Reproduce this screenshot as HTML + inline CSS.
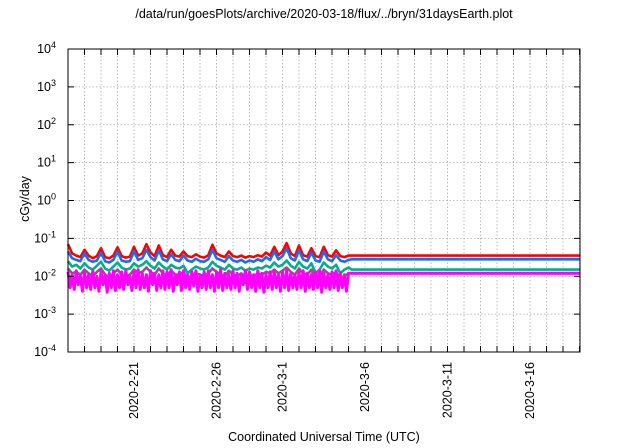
<!DOCTYPE html>
<html><head><meta charset="utf-8"><style>
html,body{margin:0;padding:0;background:#fff;}
svg{display:block;font-family:"Liberation Sans",sans-serif;}
</style></head><body>
<svg id="chart" width="640" height="448" viewBox="0 0 640 448" xmlns="http://www.w3.org/2000/svg">
<rect width="640" height="448" fill="#fff"/>
<text x="324" y="18" font-size="12.5" text-anchor="middle" fill="#000">/data/run/goesPlots/archive/2020-03-18/flux/../bryn/31daysEarth.plot</text>
<text x="0" y="0" font-size="12.5" text-anchor="middle" transform="translate(29,199) rotate(-90)">cGy/day</text>
<text x="324" y="441" font-size="12.5" text-anchor="middle">Coordinated Universal Time (UTC)</text>
<g id="grid"></g><g id="series"></g><g id="axes"></g>
</svg>
<script>
// ---- data ----
const yTickExps = [-4,-3,-2,-1,0,1,2,3,4];
const xTickLabels = ["2020-2-21","2020-2-26","2020-3-1","2020-3-6","2020-3-11","2020-3-16"];
const xTickDays = [4,9,13,18,23,28];
const noisyStartDay = 0, noisyEndDay = 17, tailStartDay = 17.2, endDay = 31;
const redVals = [0.07,0.04,0.035,0.032,0.05,0.035,0.03,0.034,0.055,0.032,0.03,0.035,0.058,0.034,0.031,0.033,0.06,0.035,0.04,0.07,0.042,0.034,0.065,0.036,0.032,0.05,0.035,0.033,0.045,0.034,0.032,0.038,0.033,0.031,0.036,0.068,0.04,0.035,0.032,0.045,0.034,0.032,0.035,0.031,0.034,0.032,0.036,0.033,0.042,0.035,0.06,0.036,0.045,0.075,0.04,0.034,0.065,0.036,0.033,0.055,0.034,0.032,0.06,0.036,0.033,0.048,0.034,0.032,0.035];
const blueVals = [0.045,0.03,0.027,0.025,0.04,0.027,0.024,0.026,0.042,0.025,0.023,0.027,0.045,0.026,0.024,0.025,0.046,0.027,0.03,0.05,0.032,0.026,0.048,0.028,0.025,0.038,0.027,0.025,0.035,0.026,0.024,0.029,0.025,0.024,0.028,0.05,0.03,0.027,0.024,0.034,0.026,0.024,0.027,0.023,0.026,0.024,0.028,0.025,0.032,0.027,0.045,0.028,0.034,0.055,0.03,0.026,0.048,0.028,0.025,0.042,0.026,0.024,0.045,0.028,0.025,0.036,0.026,0.024,0.027];
const greenVals = [0.025,0.018,0.02,0.016,0.022,0.017,0.015,0.019,0.024,0.016,0.014,0.018,0.023,0.017,0.015,0.016,0.022,0.018,0.02,0.025,0.019,0.016,0.023,0.018,0.015,0.02,0.017,0.016,0.019,0.012,0.015,0.018,0.016,0.015,0.017,0.024,0.019,0.017,0.015,0.02,0.016,0.015,0.017,0.014,0.016,0.015,0.017,0.016,0.019,0.017,0.023,0.018,0.02,0.026,0.019,0.016,0.024,0.018,0.016,0.022,0.012,0.015,0.023,0.018,0.016,0.02,0.012,0.015,0.017];
const purpleVals = [0.016,0.012,0.013,0.011,0.015,0.012,0.01,0.013,0.016,0.011,0.009,0.012,0.015,0.011,0.01,0.011,0.015,0.012,0.013,0.017,0.013,0.011,0.016,0.012,0.01,0.014,0.011,0.011,0.013,0.008,0.01,0.012,0.011,0.01,0.012,0.016,0.013,0.011,0.01,0.014,0.011,0.01,0.012,0.009,0.011,0.01,0.012,0.011,0.013,0.012,0.015,0.012,0.014,0.017,0.013,0.011,0.016,0.012,0.011,0.015,0.008,0.01,0.015,0.012,0.011,0.013,0.008,0.01,0.012];
const magentaVals = [0.013,0.005,0.011,0.0045,0.014,0.006,0.01,0.004,0.013,0.005,0.011,0.0045,0.014,0.005,0.01,0.004,0.013,0.006,0.011,0.0038,0.012,0.005,0.014,0.0042,0.011,0.005,0.013,0.0045,0.014,0.006,0.01,0.0042,0.013,0.005,0.015,0.0045,0.012,0.005,0.011,0.004,0.014,0.006,0.012,0.0042,0.011,0.005,0.014,0.0045,0.013,0.005,0.015,0.004,0.011,0.006,0.013,0.0042,0.014,0.005,0.011,0.0045,0.013,0.0055,0.014,0.004,0.011,0.005,0.013,0.0045,0.014,0.005,0.011,0.004,0.013,0.005,0.015,0.0042,0.012,0.005,0.011,0.0045,0.014,0.005,0.012,0.004,0.011,0.006,0.014,0.0045,0.013,0.005,0.011,0.004,0.014,0.005,0.012,0.0038,0.011,0.005,0.013,0.0045,0.014,0.005,0.011,0.004,0.013,0.005,0.014,0.0042,0.012,0.005,0.011,0.0045,0.013,0.005,0.014,0.004,0.012,0.005,0.011,0.0045,0.013,0.005,0.014,0.0038,0.012,0.005,0.011,0.0045,0.013,0.005,0.014,0.0042,0.012,0.005,0.011,0.004,0.012];
const tailLevels = {red:0.035, blue:0.028, green:0.015, purple:0.012, magenta:0.012};

// ---- layout ----
const L=68,R=580,T=49,B=352;
const x = d => L + (d - 0) / (31.03 - 0) * (R - L);
const y = v => B - (Math.log10(v) + 4) / 8 * (B - T);
const NS='http://www.w3.org/2000/svg';
function mk(tag, parent){const e=document.createElementNS(NS,tag);parent.appendChild(e);return e;}
const grid=document.getElementById('grid'), axes=document.getElementById('axes'), ser=document.getElementById('series');

for(let d=1; d<=31; d++){
  const xx=x(d); if(xx>=R) break;
  const g=mk('line',grid);
  
  
  g.setAttribute('x1',xx);g.setAttribute('x2',xx);g.setAttribute('y1',T);g.setAttribute('y2',B);
  g.setAttribute('stroke','#aaa');g.setAttribute('stroke-width','0.8');g.setAttribute('stroke-dasharray','1.5,2');
  for(const [a,b] of [[B,B-6],[T,T+6]]){
    const t=mk('line',axes);
    
    
    t.setAttribute('x1',xx);t.setAttribute('x2',xx);t.setAttribute('y1',a);t.setAttribute('y2',b);
    t.setAttribute('stroke','#000');t.setAttribute('stroke-width','1');
  }
}
yTickExps.forEach(e=>{
  const yy=y(Math.pow(10,e));
  if(e>-4&&e<4){
    const g=mk('line',grid);
    
    
    g.setAttribute('x1',L);g.setAttribute('x2',R);g.setAttribute('y1',yy);g.setAttribute('y2',yy);
    g.setAttribute('stroke','#aaa');g.setAttribute('stroke-width','0.8');g.setAttribute('stroke-dasharray','1.5,2');
  }
  for(const [a,b] of [[L,L+6],[R,R-6]]){
    const t=mk('line',axes);
    
    
    t.setAttribute('x1',a);t.setAttribute('x2',b);t.setAttribute('y1',yy);t.setAttribute('y2',yy);
    t.setAttribute('stroke','#000');t.setAttribute('stroke-width','1');
  }
  const tx=mk('text',axes);
  
  
  tx.setAttribute('x',L-12);tx.setAttribute('y',yy+4);tx.setAttribute('text-anchor','end');tx.setAttribute('font-size','12.5');
  tx.innerHTML='10<tspan dy="-5" font-size="9">'+e+'</tspan>';
});
xTickLabels.forEach((lab,i)=>{
  const xx=x(xTickDays[i]);
  const tx=mk('text',axes);
  
  
  tx.setAttribute('font-size','12.5');tx.setAttribute('text-anchor','end');
  tx.setAttribute('transform','translate('+(xx+4)+','+(B+10)+') rotate(-90)');
  tx.textContent=lab;
});
const frame=mk('rect',axes);


frame.setAttribute('x',L);frame.setAttribute('y',T);frame.setAttribute('width',R-L);frame.setAttribute('height',B-T);
frame.setAttribute('fill','none');frame.setAttribute('stroke','#000');frame.setAttribute('stroke-width','1');

const seriesList=[['red',redVals,'#ff0000'],['blue',blueVals,'#1a6cf0'],['green',greenVals,'#00b088'],['purple',purpleVals,'#a04a90'],['magenta',magentaVals,'#ff00ff']];
seriesList.forEach(([name,vals,col])=>{
  const n=vals.length;
  let pts=vals.map((v,i)=>x(noisyStartDay+i*(noisyEndDay-noisyStartDay)/(n-1)).toFixed(1)+','+y(v).toFixed(1));
  const lv=tailLevels[name];
  pts.push(x(tailStartDay).toFixed(1)+','+y(lv).toFixed(1));
  pts.push(x(endDay).toFixed(1)+','+y(lv).toFixed(1));
  const p=mk('polyline',ser);
  
  
  p.setAttribute('points',pts.join(' '));
  p.setAttribute('fill','none');p.setAttribute('stroke',col);
  p.setAttribute('stroke-width',name==='magenta'?'3':'2.6');
  p.setAttribute('stroke-linejoin','round');
});
</script>
</body></html>
